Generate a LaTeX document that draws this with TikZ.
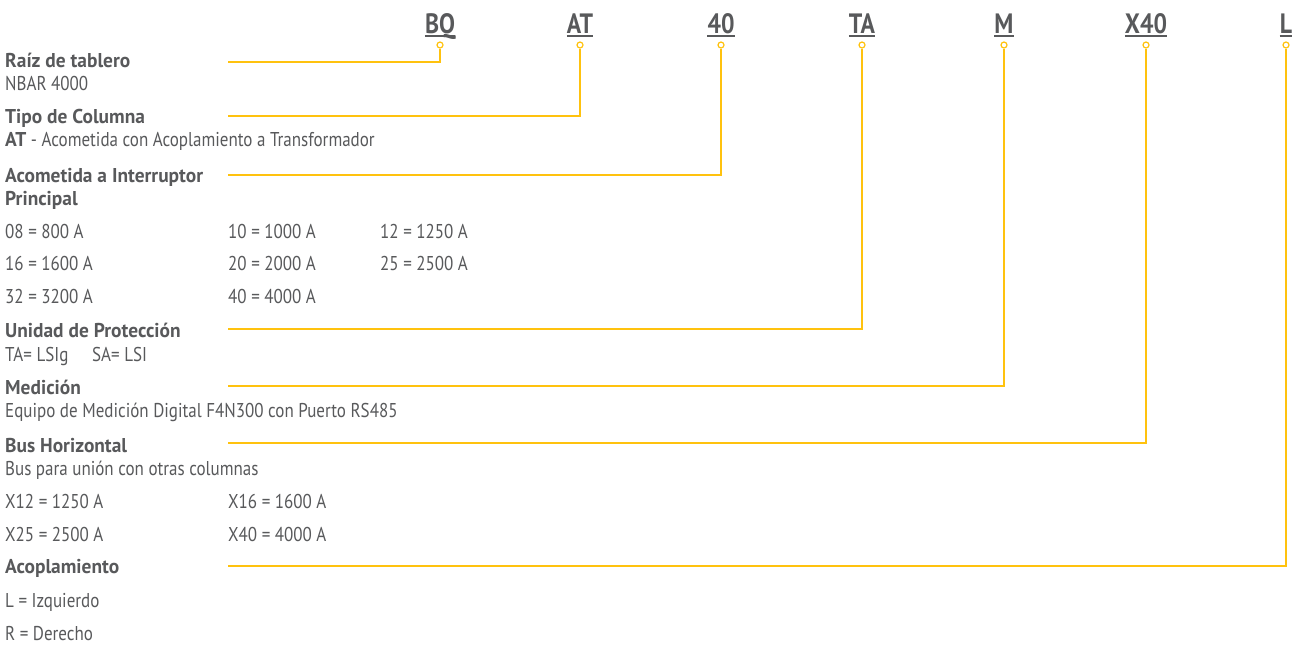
\documentclass[tikz,border=0pt]{standalone}
\usepackage{fontspec}
\setmainfont{PT Sans}[FakeStretch=0.85]
\newfontfamily\headfont{PT Sans}[FakeStretch=0.97]
\usepackage{tikz}

\definecolor{ink}{HTML}{58595B}
\definecolor{gold}{HTML}{FFC20E}

\tikzset{
  code/.style={font=\fontsize{28}{30}\selectfont\bfseries, text=ink, inner sep=0pt, anchor=base},
  head/.style={font=\headfont\fontsize{20}{22}\selectfont\bfseries, text=ink, inner sep=0pt, anchor=base west},
  body/.style={font=\fontsize{20}{22}\selectfont, text=ink, inner sep=0pt, anchor=base west},
  pin/.style={circle, draw=gold, fill=white, line width=1.2pt, minimum size=6pt, inner sep=0pt},
  guide/.style={draw=gold, line width=1.4pt},
}

\begin{document}
\begin{tikzpicture}[x=1pt, y=-1pt]
    \useasboundingbox (0,0) rectangle (1298,646);
    % Code letters along the top, each with its pin
    \foreach \name/\txt/\x in {bq/BQ/440, at/AT/580, forty/40/721, ta/TA/862, m/M/1004, xforty/X40/1146, l/L/1286} {
        \node[code] (\name) at (\x,33) {\txt};
        \draw[ink, line width=1.8pt] ([yshift=-3pt]\name.base west) -- ([yshift=-3pt]\name.base east);
        \node[pin] (pin-\name) at (\x,45) {};
    }
    % Left ends of the guide lines
    \coordinate (end-bq) at (228,62);
    \coordinate (end-at) at (228,116);
    \coordinate (end-forty) at (228,175);
    \coordinate (end-ta) at (228,329);
    \coordinate (end-m) at (228,386);
    \coordinate (end-xforty) at (228,443);
    \coordinate (end-l) at (228,566);
    \foreach \name in {bq, at, forty, ta, m, xforty, l}
        \draw[guide] (pin-\name.south) |- (end-\name);

    % Raiz de tablero
    \node[head] (root) at (5,67) {Raíz de tablero};
    \node[body] (rootval) at (5,90) {NBAR 4000};
    % Tipo de columna
    \node[head] (col) at (5,123) {Tipo de Columna};
    \node[body] (colval) at (5,146) {{\headfont\bfseries AT} - Acometida con Acoplamiento a Transformador};
    % Acometida
    \node[head] (main) at (5,182) {Acometida a Interruptor};
    \node[head] (main2) at (5,205) {Principal};
    \node[body] (a08) at (5,238) {08 = 800 A};
    \node[body] (a10) at (228,238) {10 = 1000 A};
    \node[body] (a12) at (380,238) {12 = 1250 A};
    \node[body] (a16) at (5,270) {16 = 1600 A};
    \node[body] (a20) at (228,270) {20 = 2000 A};
    \node[body] (a25) at (380,270) {25 = 2500 A};
    \node[body] (a32) at (5,303) {32 = 3200 A};
    \node[body] (a40) at (228,303) {40 = 4000 A};
    % Unidad de proteccion
    \node[head] (prot) at (5,337) {Unidad de Protección};
    \node[body] (protta) at (5,361) {TA= LSIg};
    \node[body] (protsa) at (92,361) {SA= LSI};
    % Medicion
    \node[head] (meas) at (5,394) {Medición};
    \node[body] (measval) at (5,417) {Equipo de Medición Digital F4N300 con Puerto RS485};
    % Bus horizontal
    \node[head] (bus) at (5,452) {Bus Horizontal};
    \node[body] (busval) at (5,475) {Bus para unión con otras columnas};
    \node[body] (x12) at (5,508) {X12 = 1250 A};
    \node[body] (x16) at (228,508) {X16 = 1600 A};
    \node[body] (x25) at (5,541) {X25 = 2500 A};
    \node[body] (x40) at (228,541) {X40 = 4000 A};
    % Acoplamiento
    \node[head] (coup) at (5,573) {Acoplamiento};
    \node[body] (left) at (5,607) {L = Izquierdo};
    \node[body] (right) at (5,640) {R = Derecho};
\end{tikzpicture}
\end{document}
